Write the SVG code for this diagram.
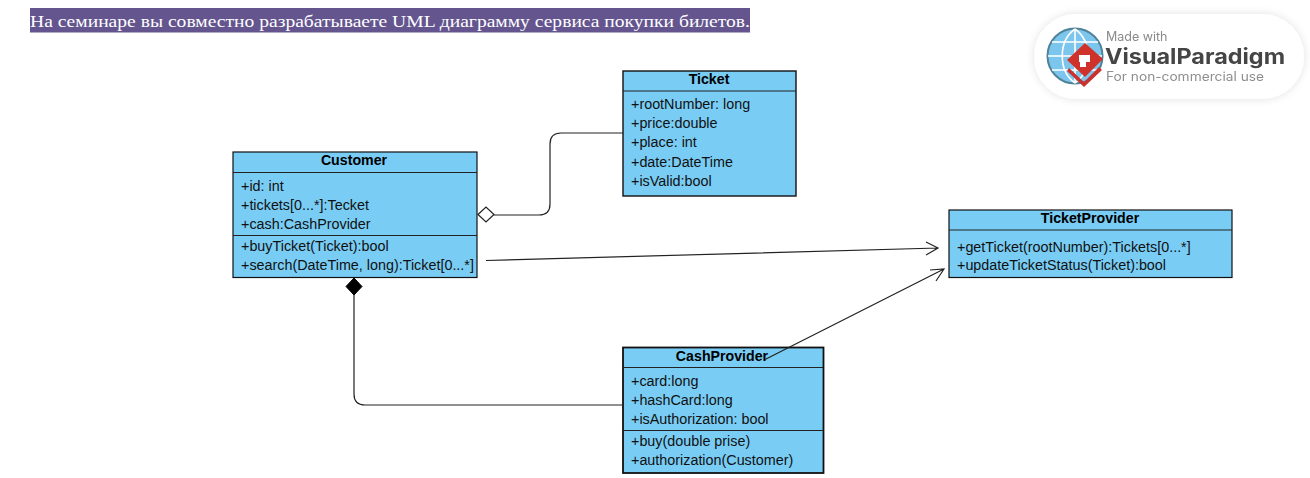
<svg xmlns="http://www.w3.org/2000/svg" width="1310" height="478" viewBox="0 0 1310 478">
<defs>
<filter id="sh" x="-10%" y="-20%" width="120%" height="140%"><feDropShadow dx="0" dy="0" stdDeviation="4" flood-color="#000" flood-opacity="0.12"/></filter>
<filter id="soft" x="-5%" y="-5%" width="110%" height="110%"><feGaussianBlur stdDeviation="0.45"/></filter>
</defs>
<style>
text{font-family:"Liberation Sans",Arial,sans-serif;font-size:14.35px;fill:#111}
.t{font-weight:bold;text-anchor:middle;font-size:14.2px;fill:#000}
.b{fill:#79cdf5;stroke:#111;stroke-width:1.2}
.l{stroke:#222;stroke-width:1.2;fill:none}
.c{stroke:#222;stroke-width:1.2;fill:none}
.h{font-family:"Liberation Serif","Times New Roman",serif;font-size:17.2px;fill:#fff}
</style>
<rect width="1310" height="478" fill="#fff"/>
<g id="heading">
<rect x="30" y="8" width="720" height="24.5" fill="#64558f"/>
<text class="h" x="30" y="27" textLength="720" lengthAdjust="spacingAndGlyphs">На семинаре вы совместно разрабатываете UML диаграмму сервиса покупки билетов.</text>
</g>
<g id="watermark">
<rect x="1034" y="14" width="270" height="85" rx="42" fill="#fff" filter="url(#sh)"/>
<g filter="url(#soft)">
<circle cx="1075" cy="56" r="27.500" fill="#7cc6ee" stroke="#4f8299" stroke-width="2"/>
<path d="M1048 56H1102M1052 42H1098M1052 70H1098M1075 29V83M1075 29C1058 41 1058 71 1075 83M1075 29C1092 41 1092 71 1075 83" fill="none" stroke="#fff" stroke-width="1.6"/>
<path d="M1069 68L1084 82L1099 67L1102 70L1084 87L1067 71Z" fill="#c9332d"/>
<path d="M1067 60L1085 43L1103 59L1085 77Z" fill="#cf332c"/>
<path d="M1079 55H1090V62H1086V67H1080V62H1079Z" fill="#fff"/>
<text x="1106" y="41" style="font-family:'Inter','Liberation Sans',sans-serif;font-size:12.500px;fill:#8a8a8a">Made with</text>
<text x="1105" y="64" textLength="180" lengthAdjust="spacingAndGlyphs" style="font-family:'Inter','Liberation Sans',sans-serif;font-size:21px;font-weight:bold;fill:#444">VisualParadigm</text>
<text x="1106" y="81" textLength="158" lengthAdjust="spacingAndGlyphs" style="font-family:'Inter','Liberation Sans',sans-serif;font-size:12.500px;fill:#8f8f8f">For non-commercial use</text>
</g>
</g>
<g id="Customer">
<rect class="b" x="233" y="152" width="244" height="125.500"/>
<line class="l" x1="233" y1="172.500" x2="477" y2="172.500"/>
<line class="l" x1="233" y1="235.500" x2="477" y2="235.500"/>
<text class="t" x="354" y="165">Customer</text>
<text x="241" y="191">+id: int</text>
<text x="241" y="210">+tickets[0...*]:Tecket</text>
<text x="241" y="229">+cash:CashProvider</text>
<text x="241" y="251">+buyTicket(Ticket):bool</text>
<text x="241" y="270">+search(DateTime, long):Ticket[0...*]</text>
</g>
<g id="Ticket">
<rect class="b" x="623" y="71" width="173" height="125" style="stroke-width:1.4"/>
<line class="l" x1="623" y1="91" x2="796" y2="91"/>
<text class="t" x="709" y="84">Ticket</text>
<text x="631" y="109">+rootNumber: long</text>
<text x="631" y="128">+price:double</text>
<text x="631" y="147">+place: int</text>
<text x="631" y="167">+date:DateTime</text>
<text x="631" y="186">+isValid:bool</text>
</g>
<g id="TicketProvider">
<rect class="b" x="949" y="210" width="283" height="67.500"/>
<line class="l" x1="949" y1="230" x2="1232" y2="230"/>
<text class="t" x="1090" y="223">TicketProvider</text>
<text x="957" y="252">+getTicket(rootNumber):Tickets[0...*]</text>
<text x="957" y="270">+updateTicketStatus(Ticket):bool</text>
</g>
<g id="CashProvider">
<rect class="b" x="623" y="347.500" width="200.500" height="125.500" style="stroke-width:1.8"/>
<line class="l" x1="623" y1="367.500" x2="823" y2="367.500"/>
<line class="l" x1="623" y1="430.500" x2="823" y2="430.500"/>
<text class="t" x="722" y="361">CashProvider</text>
<text x="631" y="386">+card:long</text>
<text x="631" y="405">+hashCard:long</text>
<text x="631" y="424">+isAuthorization: bool</text>
<text x="631" y="446">+buy(double prise)</text>
<text x="631" y="465">+authorization(Customer)</text>
</g>
<g id="connectors">
<path class="c" d="M623 133H561Q550 133 550 144V204Q550 215 539 215H494"/>
<path d="M478 214.500L486 207L494 214.500L486 222Z" fill="#fff" stroke="#222" stroke-width="1.2"/>
<path class="c" d="M486 260.500L938 248M926 242L938 248L926 255"/>
<path class="c" d="M354 294V394Q354 405 365 405H623"/>
<path d="M354 278L362 286.500L354 295L346 286.500Z" fill="#000" stroke="#000" stroke-width="1"/>
<path class="c" d="M765 359.500L943 269.500M930 270L944 269L936 281"/>
</g>
</svg>
